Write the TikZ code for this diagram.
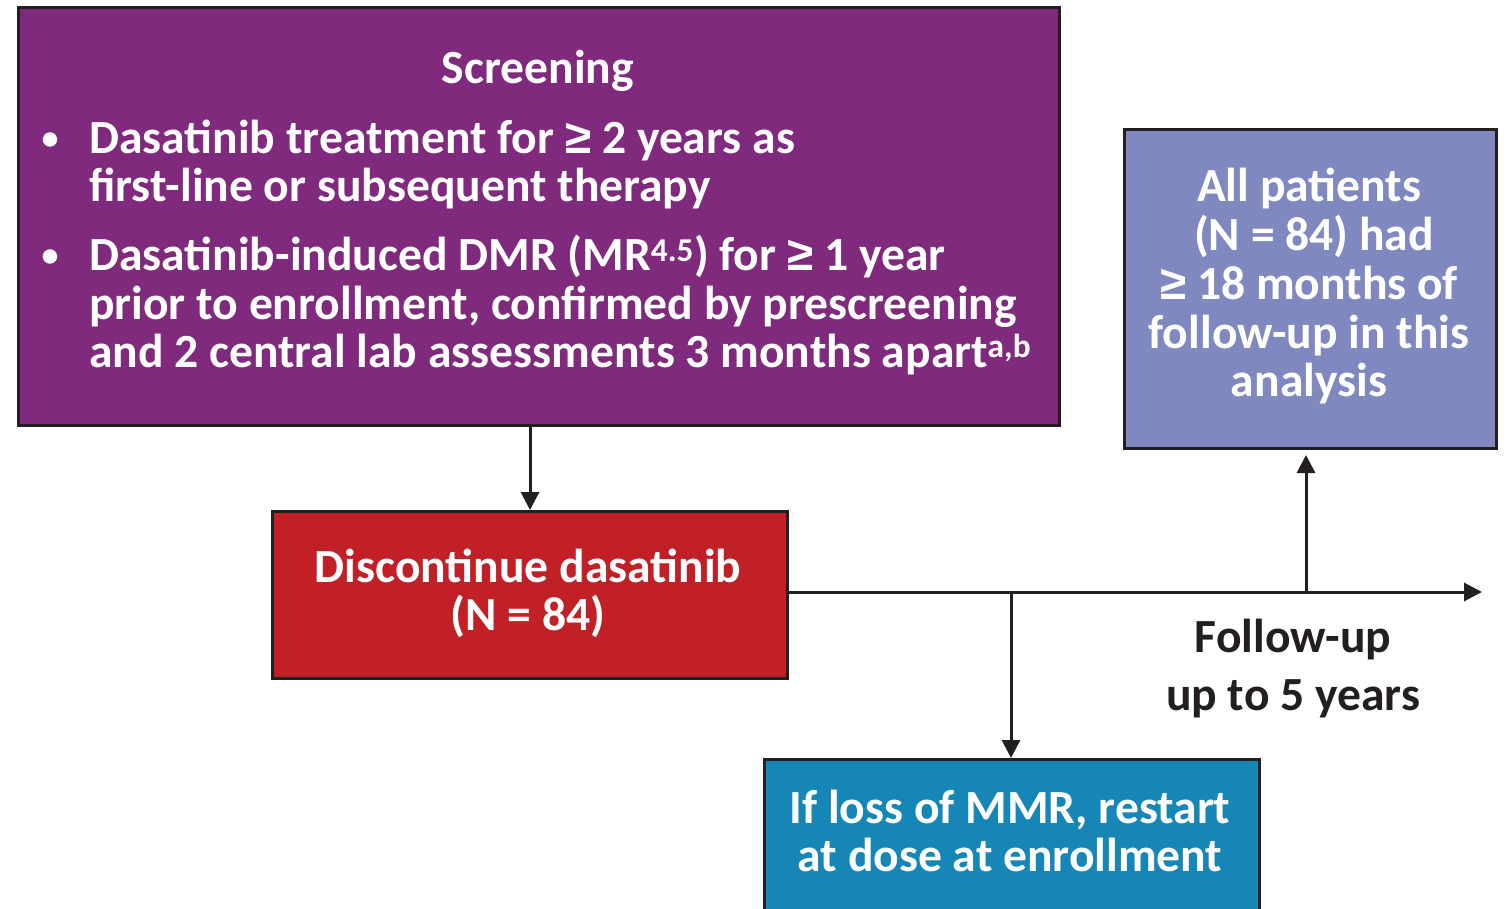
\documentclass[tikz,border=0pt]{standalone}
\usepackage{fontspec}
\setmainfont{Carlito}
\newfontfamily\symfont{Liberation Sans}
\newcommand\gesym{{\symfont ≥}}
\usetikzlibrary{arrows.meta}
\definecolor{scrpurple}{HTML}{7F2A7C}
\definecolor{discred}{HTML}{C02026}
\definecolor{allblue}{HTML}{8088C0}
\definecolor{restartblue}{HTML}{1586B5}
\definecolor{edgecol}{HTML}{231F20}
\begin{document}
\begin{tikzpicture}[x=1pt,y=-1pt,
  box/.style={draw=edgecol, line width=3pt, inner sep=0pt, anchor=north west},
  wtext/.style={text=white, font=\fontsize{47.6}{48}\selectfont\bfseries, inner sep=0pt},
  btext/.style={text=white, font=\fontsize{34}{36}\selectfont\bfseries, inner sep=0pt},
  ktext/.style={text=edgecol, font=\fontsize{47.6}{48}\selectfont\bfseries, inner sep=0pt},
  conn/.style={draw=edgecol, line width=3pt, -{Triangle[length=18pt,width=18pt]}}]
\useasboundingbox (0,0) rectangle (1509,909);
% boxes
\node[box, fill=scrpurple, minimum width=1041pt, minimum height=418pt] (scr) at (17,6) {};
\node[box, fill=discred, minimum width=515pt, minimum height=167pt] (disc) at (271,510) {};
\node[box, fill=allblue, minimum width=372pt, minimum height=319pt] (allp) at (1123,128) {};
\node[box, fill=restartblue, minimum width=495pt, minimum height=170pt] (rst) at (763,758) {};
% screening text
\node[wtext, anchor=base] (scrtitle) at (538,84) {Screening};
\node[btext, anchor=base] (bul1) at (50,150) {•};
\node[wtext, anchor=base west] (l1) at (89,154) {Dasatinib treatment for \gesym{} 2 years as};
\node[wtext, anchor=base west] (l2) at (89,202) {first-line or subsequent therapy};
\node[btext, anchor=base] (bul2) at (50,267) {•};
\node[wtext, anchor=base west] (l3) at (89,271) {Dasatinib-induced DMR (MR\textsuperscript{4.5}) for \gesym{} 1 year};
\node[wtext, anchor=base west] (l4) at (89,319) {prior to enrollment, confirmed by prescreening};
\node[wtext, anchor=base west] (l5) at (89,367) {and 2 central lab assessments 3 months apart\textsuperscript{a,b}};
% discontinue text
\node[wtext, anchor=base] (d1) at (528,582) {Discontinue dasatinib};
\node[wtext, anchor=base] (d2) at (528,630) {(N = 84)};
% all patients text
\node[wtext, anchor=base] (a1) at (1309,202) {All patients};
\node[wtext, anchor=base] (a2) at (1314,251) {(N = 84) had};
\node[wtext, anchor=base] (a3) at (1309,299) {\gesym{} 18 months of};
\node[wtext, anchor=base] (a4) at (1309,348) {follow-up in this};
\node[wtext, anchor=base] (a5) at (1309,396) {analysis};
% restart text
\node[wtext, anchor=base] (r1) at (1010,823) {If loss of MMR, restart};
\node[wtext, anchor=base] (r2) at (1010,871) {at dose at enrollment};
% follow-up label
\node[ktext, anchor=base] (f1) at (1293,652) {Follow-up};
\node[ktext, anchor=base] (f2) at (1293,710) {up to 5 years};
% connectors
\coordinate (tend) at (1482,592);
\coordinate (bdown) at (1011,592);
\coordinate (bup) at (1306,592);
\coordinate (upend) at (1306,455);
\draw[conn] (scr.south -| disc.north) -- (disc.north);
\draw[conn] (disc.east |- tend) -- (tend);
\draw[conn] (bdown) -- (bdown |- rst.north);
\draw[conn] (bup) -- (upend);
\end{tikzpicture}
\end{document}
